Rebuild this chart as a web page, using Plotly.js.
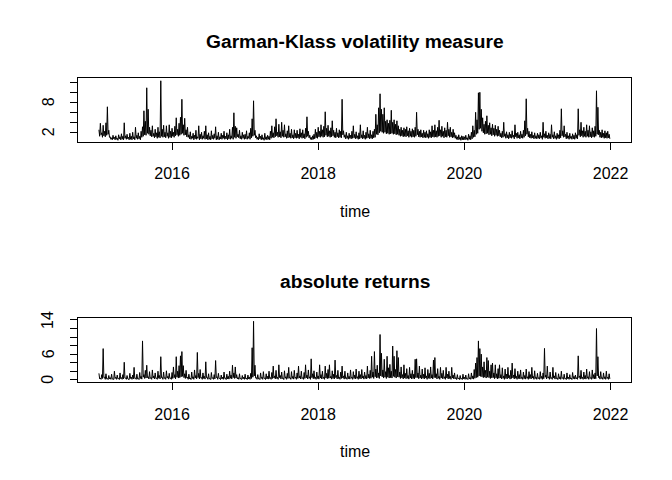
<!DOCTYPE html>
<html>
<head>
<meta charset="utf-8">
<script src="https://cdn.plot.ly/plotly-3.0.1.min.js"></script>
<style>
  body { margin: 0; background: #fff; }
  #graph { width: 672px; height: 480px; }
</style>
</head>
<body>
<div id="graph"></div>
<script>
// weekly readings, one row per year (2015 .. 2021)
// gk / absret = weekly high, gkLow / arLow = weekly trough
var gk = [
  2.5,3.8,1.9,3.4,2.2,3.9,7.1,2.4,1.1,0.9,1.4,1.0,1.3,0.8,1.5,1.1,1.7,1.2,3.9,1.3,1.6,1.0,1.8,1.2,2.0,1.1,3.0,1.4,1.9,1.2,2.2,3.1,6.3,4.2,10.9,6.6,3.0,2.4,3.3,1.8,2.6,1.9,3.0,2.1,12.3,2.6,3.4,2.0,3.3,1.9,3.5,2.2,
  2.8,2.0,3.2,4.9,2.6,3.8,5.0,8.6,3.5,4.8,2.5,3.0,1.5,2.1,1.2,1.8,1.4,2.4,1.1,3.3,1.6,2.0,1.3,2.2,3.3,1.5,1.9,1.2,2.3,1.4,1.7,3.1,1.3,2.0,1.1,1.8,1.4,2.2,1.2,1.9,1.5,2.6,1.3,3.0,5.9,3.2,2.9,1.6,2.4,1.3,2.0,1.5,
  1.6,2.3,1.2,1.9,2.8,4.7,8.3,2.4,1.3,1.0,1.7,1.2,1.5,0.9,1.8,1.1,1.4,1.2,2.2,3.3,1.9,3.1,4.7,2.0,3.6,2.1,4.0,2.4,3.5,1.7,2.3,3.3,1.8,2.6,1.5,2.5,1.8,2.4,1.6,2.7,1.9,2.5,1.7,2.8,5.1,2.2,1.4,1.0,1.3,1.6,2.6,2.0,
  3.0,2.2,3.5,2.5,3.2,6.1,2.8,3.4,2.3,2.9,4.3,2.4,2.0,2.8,1.9,2.5,2.2,8.6,2.3,1.5,2.0,1.3,1.8,1.4,2.2,3.3,1.6,2.1,1.3,1.9,3.5,1.5,2.3,1.4,2.0,3.0,1.7,2.4,1.5,2.2,2.6,5.6,3.5,6.9,9.7,6.6,5.6,6.9,4.2,4.5,3.8,4.4,
  6.4,4.0,4.5,3.6,4.3,3.3,2.6,3.0,2.4,2.9,2.6,3.1,2.3,2.8,2.2,2.7,2.4,3.0,6.0,2.6,2.2,2.5,1.8,2.4,2.0,2.3,1.7,2.5,2.1,3.3,2.4,3.5,2.3,3.0,4.4,2.5,3.2,2.2,2.9,2.4,4.0,2.6,3.0,2.0,2.6,1.9,1.4,1.1,1.5,1.0,1.3,1.2,
  1.1,1.4,0.9,1.6,1.3,2.0,3.3,2.4,6.0,4.5,9.9,10.0,6.6,4.9,3.6,4.2,5.3,3.4,3.9,2.9,3.6,2.8,3.4,2.6,3.2,2.4,1.8,2.2,4.0,1.7,2.1,1.5,2.0,1.6,2.3,1.4,3.5,1.8,2.0,1.5,2.2,1.6,2.4,4.3,8.7,2.8,2.2,1.6,2.1,1.4,1.9,1.3,
  1.8,1.5,2.0,1.3,4.0,1.7,2.2,1.4,1.9,1.6,3.5,1.5,2.1,1.3,1.8,1.5,2.4,6.7,2.3,3.3,1.6,2.0,1.3,1.8,1.2,1.7,1.4,1.9,1.5,6.7,2.5,4.0,2.3,3.0,2.2,3.5,2.4,3.3,2.1,2.9,2.3,3.2,10.3,7.0,2.4,2.0,2.5,1.8,2.3,1.9,2.2,1.6
];

var gkLow = [
  1.2,1.5,1.0,1.3,1.1,1.4,1.6,1.0,0.6,0.5,0.7,0.5,0.6,0.4,0.7,0.5,0.6,0.5,0.8,0.6,0.7,0.5,0.6,0.5,0.7,0.5,0.8,0.6,0.7,0.5,1.0,1.2,1.5,1.4,1.8,1.6,1.3,1.1,1.2,0.9,1.1,0.8,1.0,0.9,1.2,1.0,1.1,0.9,1.2,0.8,1.0,0.9,
  1.2,1.0,1.3,1.5,1.2,1.4,1.6,1.8,1.4,1.5,1.1,1.0,0.7,0.6,0.8,0.5,0.7,0.6,0.8,0.5,0.7,0.6,0.8,0.6,0.7,0.5,0.6,0.5,0.7,0.6,0.8,0.5,0.6,0.5,0.7,0.6,0.8,0.6,0.7,0.5,0.7,0.6,0.8,0.6,1.0,0.8,1.1,0.9,0.7,0.6,0.8,0.6,
  0.7,0.6,0.8,0.6,0.9,1.2,1.4,0.9,0.6,0.5,0.7,0.5,0.6,0.4,0.6,0.5,0.6,0.5,0.8,1.0,0.9,1.1,1.3,1.0,1.1,0.9,1.2,1.0,1.1,0.8,0.9,1.0,0.8,0.9,0.7,0.9,0.8,0.9,0.7,1.0,0.8,0.9,0.7,1.0,1.2,0.9,0.6,0.5,0.6,0.7,0.9,0.8,
  1.1,1.0,1.2,1.0,1.1,1.4,1.1,1.2,1.0,1.1,1.3,1.0,0.9,1.1,0.9,1.0,0.9,1.5,1.0,0.7,0.8,0.6,0.8,0.7,0.8,0.9,0.7,0.8,0.6,0.7,0.9,0.7,0.8,0.6,0.8,0.9,0.7,0.8,0.7,0.9,1.0,1.6,1.5,1.9,2.2,2.0,1.8,2.0,1.7,1.8,1.6,1.7,
  1.8,1.6,1.7,1.5,1.6,1.4,1.2,1.3,1.1,1.2,1.1,1.3,1.0,1.2,1.0,1.1,1.0,1.2,1.5,1.1,1.0,1.1,0.9,1.0,0.9,1.0,0.8,1.0,0.9,1.1,1.0,1.1,1.0,1.2,1.3,1.0,1.2,0.9,1.1,1.0,1.3,1.0,1.1,0.9,1.0,0.8,0.6,0.5,0.6,0.4,0.5,0.5,
  0.5,0.6,0.4,0.6,0.5,0.7,1.0,1.1,1.6,1.8,2.6,2.8,2.2,1.9,1.6,1.7,1.8,1.5,1.6,1.3,1.5,1.2,1.4,1.2,1.3,1.1,0.9,1.0,1.2,0.8,0.9,0.7,0.9,0.8,1.0,0.7,1.1,0.8,0.9,0.7,0.9,0.8,1.0,1.3,1.6,1.1,0.9,0.8,0.9,0.7,0.8,0.7,
  0.8,0.7,0.9,0.6,1.0,0.8,0.9,0.7,0.8,0.7,1.0,0.7,0.8,0.6,0.8,0.7,0.9,1.3,1.0,1.1,0.7,0.8,0.6,0.8,0.6,0.7,0.6,0.8,0.7,1.4,1.1,1.3,1.0,1.2,1.0,1.2,1.0,1.1,0.9,1.1,1.0,1.2,1.6,1.5,1.0,0.9,1.0,0.8,0.9,0.8,0.9,0.7
];

var absret = [
  1.5,0.4,1.2,7.3,0.6,1.4,0.3,1.0,0.5,1.3,0.2,2.0,0.6,1.1,0.3,1.6,0.5,1.2,4.1,0.4,1.0,0.2,1.5,0.6,1.1,2.9,0.4,1.3,0.3,1.7,0.8,9.1,1.2,2.2,3.4,0.7,1.9,0.5,2.3,0.9,1.6,0.4,2.0,1.0,5.4,0.6,1.8,0.5,2.1,0.8,1.5,0.4,
  1.7,3.0,1.2,5.4,2.0,3.3,5.6,6.6,3.3,1.4,2.2,0.6,1.3,0.4,1.8,0.7,2.3,1.0,6.4,1.5,2.4,0.5,1.6,0.8,4.2,0.6,1.4,0.3,1.7,0.5,1.2,4.5,0.7,1.5,0.3,1.1,0.6,1.8,0.4,1.3,0.8,2.0,1.1,3.4,1.6,3.0,1.2,0.5,1.4,0.3,1.0,0.6,
  1.3,0.4,1.1,0.6,1.5,7.5,13.7,3.4,0.5,1.2,0.3,1.6,0.6,1.9,0.4,1.4,0.8,2.0,0.5,1.7,3.2,0.9,2.2,0.6,3.5,1.0,1.8,0.4,2.1,0.7,1.5,2.9,0.5,1.9,0.8,2.2,0.6,1.6,3.2,0.9,2.0,0.5,1.7,3.5,1.1,2.3,0.7,4.9,1.4,2.1,0.6,1.8,
  0.9,3.5,1.2,2.0,0.6,3.2,1.5,2.4,3.5,0.8,2.1,1.3,4.6,1.0,2.2,0.6,1.8,3.2,0.9,2.0,0.5,1.6,0.8,2.3,0.6,1.9,1.1,2.5,0.7,2.0,1.2,2.4,0.9,1.8,1.0,3.2,1.3,2.2,5.5,1.8,6.6,2.5,3.4,1.6,10.6,6.2,2.3,4.8,1.9,5.5,2.8,3.6,
  2.0,7.9,5.5,2.4,6.8,5.2,1.8,3.0,1.2,3.5,1.5,2.6,1.0,2.9,1.4,2.2,1.3,4.8,4.9,1.6,3.2,1.1,2.5,1.3,2.8,0.9,2.4,1.5,3.0,1.2,4.6,5.2,1.4,2.6,0.8,2.9,1.5,2.2,0.7,2.9,1.3,2.0,0.8,2.9,1.1,1.6,0.5,1.2,0.4,1.0,0.3,1.3,
  0.6,1.1,0.3,1.4,0.5,1.6,0.9,2.4,3.9,5.2,9.1,7.3,6.0,3.0,4.2,2.2,5.2,4.5,2.0,3.5,3.9,1.6,3.5,1.4,2.6,3.5,1.2,2.8,0.9,2.5,1.3,2.9,1.0,2.2,3.9,1.1,2.6,0.8,2.0,1.2,2.3,0.6,1.8,1.0,2.5,0.7,1.9,1.2,2.9,0.8,2.1,0.6,
  1.5,0.5,1.9,0.8,1.6,7.35,1.1,3.2,0.7,1.8,0.5,2.9,0.9,1.7,0.4,1.4,0.7,2.0,0.5,1.3,0.3,1.6,0.6,1.2,0.4,1.7,0.8,1.1,0.5,5.6,0.9,2.2,0.6,1.8,1.0,2.5,0.7,1.9,0.5,2.3,1.2,1.6,12.0,5.4,0.8,1.9,0.5,1.6,0.7,2.0,0.6,1.4
];

var arLow = [
  0.2,0.1,0.3,0.5,0.1,0.2,0.05,0.2,0.1,0.15,0.05,0.3,0.1,0.2,0.05,0.25,0.1,0.2,0.4,0.1,0.2,0.05,0.3,0.1,0.2,0.3,0.1,0.2,0.05,0.3,0.15,0.6,0.3,0.4,0.5,0.2,0.3,0.1,0.4,0.2,0.3,0.1,0.35,0.2,0.5,0.1,0.3,0.1,0.4,0.15,0.3,0.1,
  0.3,0.5,0.2,0.6,0.4,0.5,0.7,0.8,0.5,0.3,0.4,0.1,0.2,0.05,0.3,0.1,0.4,0.2,0.5,0.2,0.4,0.1,0.3,0.15,0.5,0.1,0.2,0.05,0.3,0.1,0.2,0.5,0.1,0.3,0.05,0.2,0.1,0.3,0.05,0.2,0.15,0.35,0.2,0.5,0.3,0.4,0.2,0.1,0.2,0.05,0.2,0.1,
  0.2,0.05,0.2,0.1,0.3,0.6,0.9,0.4,0.1,0.2,0.05,0.3,0.1,0.3,0.05,0.2,0.15,0.3,0.1,0.3,0.4,0.2,0.3,0.1,0.5,0.2,0.3,0.05,0.35,0.1,0.3,0.4,0.1,0.3,0.15,0.35,0.1,0.3,0.4,0.2,0.3,0.1,0.3,0.45,0.2,0.35,0.1,0.5,0.25,0.3,0.1,0.3,
  0.15,0.4,0.2,0.3,0.1,0.4,0.25,0.35,0.4,0.15,0.3,0.2,0.5,0.2,0.3,0.1,0.3,0.4,0.15,0.3,0.1,0.25,0.15,0.35,0.1,0.3,0.2,0.35,0.1,0.3,0.2,0.4,0.15,0.3,0.2,0.4,0.3,0.35,0.6,0.3,0.7,0.4,0.5,0.3,0.9,0.7,0.4,0.6,0.3,0.6,0.4,0.5,
  0.4,0.8,0.6,0.4,0.7,0.6,0.3,0.45,0.2,0.4,0.25,0.35,0.15,0.4,0.2,0.3,0.2,0.5,0.5,0.25,0.4,0.2,0.35,0.2,0.4,0.1,0.35,0.25,0.4,0.2,0.5,0.5,0.2,0.35,0.1,0.4,0.25,0.3,0.1,0.4,0.2,0.3,0.1,0.4,0.2,0.25,0.05,0.2,0.05,0.15,0.05,0.2,
  0.1,0.2,0.05,0.2,0.1,0.25,0.15,0.35,0.5,0.6,0.9,0.8,0.7,0.5,0.6,0.4,0.6,0.5,0.3,0.45,0.5,0.25,0.45,0.2,0.35,0.4,0.2,0.35,0.1,0.3,0.2,0.4,0.15,0.3,0.45,0.2,0.35,0.1,0.3,0.2,0.3,0.1,0.25,0.15,0.35,0.1,0.3,0.2,0.4,0.1,0.3,0.1,
  0.25,0.1,0.3,0.1,0.25,0.6,0.2,0.4,0.1,0.3,0.1,0.4,0.15,0.25,0.05,0.2,0.1,0.3,0.1,0.2,0.05,0.25,0.1,0.2,0.05,0.25,0.15,0.2,0.1,0.5,0.15,0.3,0.1,0.25,0.15,0.35,0.1,0.3,0.1,0.3,0.2,0.25,0.9,0.5,0.15,0.3,0.1,0.25,0.1,0.3,0.1,0.2
];

var startYear = 2015;
var perYear = 52;

var yearTicks = [2016, 2018, 2020, 2022];
var gkTicks = [2, 4, 6, 8, 10, 12];
var gkLabels = ['2', '', '', '8', '', ''];
var arTicks = [0, 2, 4, 6, 8, 10, 12, 14];
var arLabels = ['0', '', '', '6', '', '', '', '14'];

// weekly high, then the trough half a week later
function weave(high, low) {
  var x = [], y = [];
  for (var i = 0; i < high.length; i++) {
    x.push(startYear + i / perYear);
    y.push(high[i]);
    x.push(startYear + (i + 0.5) / perYear);
    y.push(low[i]);
  }
  return { x: x, y: y };
}

var s1 = weave(gk, gkLow);
var s2 = weave(absret, arLow);

var trace1 = {
  x: s1.x,
  y: s1.y,
  mode: 'lines',
  type: 'scatter',
  xaxis: 'x',
  yaxis: 'y',
  line: { color: 'black', width: 1 },
  hoverinfo: 'skip'
};

var trace2 = {
  x: s2.x,
  y: s2.y,
  mode: 'lines',
  type: 'scatter',
  xaxis: 'x2',
  yaxis: 'y2',
  line: { color: 'black', width: 1 },
  hoverinfo: 'skip'
};

function xAxis(anchor) {
  return {
    anchor: anchor,
    domain: [0.1168, 0.939],
    range: [2014.72, 2022.28],
    tickvals: yearTicks,
    ticktext: yearTicks.map(String),
    ticks: 'outside',
    ticklen: 7,
    tickcolor: 'black',
    ticklabelstandoff: 10,
    showline: true,
    mirror: true,
    linecolor: 'black',
    linewidth: 1,
    showgrid: false,
    zeroline: false,
    tickfont: { size: 16, color: 'black' }
  };
}

// y tick labels are placed as rotated annotations (R style, parallel to the axis)
function yAxis(anchor, domain, range, vals) {
  return {
    anchor: anchor,
    domain: domain,
    range: range,
    tickvals: vals,
    showticklabels: false,
    ticks: 'outside',
    ticklen: 7,
    tickcolor: 'black',
    showline: true,
    mirror: true,
    linecolor: 'black',
    linewidth: 1,
    showgrid: false,
    zeroline: false
  };
}

function yLabels(axisRef, vals, labels) {
  var out = [];
  vals.forEach(function(v, i) {
    if (!labels[i]) return;
    out.push({
      text: labels[i], xref: 'paper', yref: axisRef, x: 48 / 672, y: v,
      textangle: -90, xanchor: 'center', yanchor: 'middle', showarrow: false,
      font: { size: 16, color: 'black' }
    });
  });
  return out;
}

var annotations = [
  { text: '<b>absolute returns</b>', xref: 'paper', yref: 'paper', x: 0.528, y: 1 - 281 / 480,
    xanchor: 'center', yanchor: 'middle', showarrow: false, font: { size: 19.2 } },
  { text: 'time', xref: 'paper', yref: 'paper', x: 0.528, y: 1 - 211 / 480,
    xanchor: 'center', yanchor: 'middle', showarrow: false, font: { size: 16 } },
  { text: 'time', xref: 'paper', yref: 'paper', x: 0.528, y: 1 - 451 / 480,
    xanchor: 'center', yanchor: 'middle', showarrow: false, font: { size: 16 } }
].concat(yLabels('y', gkTicks, gkLabels), yLabels('y2', arTicks, arLabels));

var layout = {
  width: 672,
  height: 480,
  margin: { l: 0, r: 0, t: 0, b: 0 },
  paper_bgcolor: 'white',
  plot_bgcolor: 'white',
  showlegend: false,
  font: { family: 'Liberation Sans, Arial, sans-serif', size: 16, color: 'black' },
  title: {
    text: '<b>Garman-Klass volatility measure</b>',
    font: { size: 19.2, color: 'black' },
    x: 0.528, xanchor: 'center',
    y: 1 - 41 / 480, yanchor: 'middle'
  },
  xaxis: xAxis('y'),
  yaxis: yAxis('x', [0.7042, 0.8369], [0.06, 12.8], gkTicks),
  xaxis2: xAxis('y2'),
  yaxis2: yAxis('x2', [0.2035, 0.3369], [-0.6, 14.4], arTicks),
  annotations: annotations
};

Plotly.newPlot('graph', [trace1, trace2], layout, { staticPlot: true });
</script>
</body>
</html>
